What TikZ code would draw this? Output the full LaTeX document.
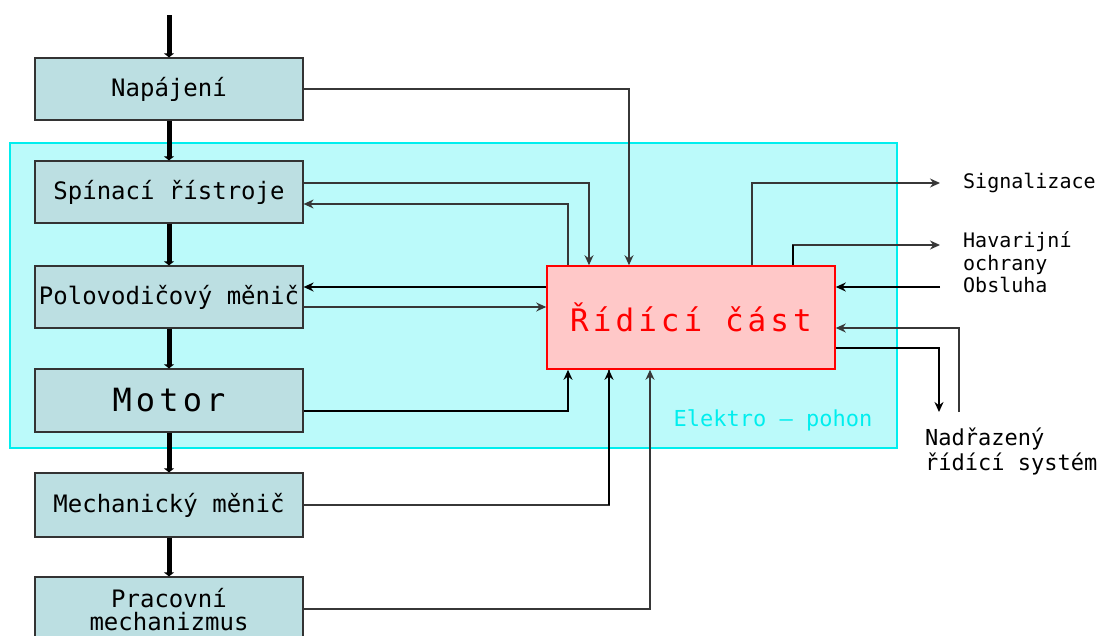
\documentclass[tikz,border=0pt]{standalone}
\usepackage{fontspec}
\usetikzlibrary{arrows.meta,calc}
\newfontfamily\cad{DejaVu Sans Mono}
\newfontfamily\cadwide[LetterSpace=13]{DejaVu Sans Mono}
\definecolor{boxfill}{RGB}{188,223,226}
\definecolor{zone}{RGB}{187,250,250}
\definecolor{zoneline}{RGB}{0,238,238}
\definecolor{redfill}{RGB}{255,200,200}
\definecolor{wire}{RGB}{55,55,55}
\tikzset{
  blockbox/.style={draw=black!80, line width=1.2pt, fill=boxfill, minimum width=268pt,
    minimum height=62pt, inner sep=0pt, font=\cad\fontsize{24}{23}\selectfont, align=center},
  thinw/.style={draw=wire, line width=1.3pt},
  thickw/.style={draw=black, line width=2.6pt},
  tip/.style={-{Stealth[length=10pt,width=9pt]}},
  power/.style={draw=black, line width=5pt, -{Triangle[length=4pt,width=10pt]}},
  lbl/.style={font=\cad\fontsize{20}{23}\selectfont, anchor=west, inner sep=0pt, align=left},
}
\begin{document}
\begin{tikzpicture}[x=1pt,y=-1pt]
\useasboundingbox (0,0) rectangle (1101,635);
\clip (0,0) rectangle (1101,635);
% zone
\fill[zone] (10,143) rectangle (897,448);
\draw[zoneline, line width=1.6pt] (10,143) rectangle (897,448);
\node[font=\cad\fontsize{22}{26}\selectfont, text=zoneline, inner sep=0pt] (ep) at (773,420) {Elektro – pohon};
% blocks
\node[blockbox] (nap) at (169,89) {Napájení};
\node[blockbox] (sp) at (169,192) {Spínací řístroje};
\node[blockbox] (pol) at (169,297) {Polovodičový měnič};
\node[blockbox, minimum height=63pt, font=\cadwide\fontsize{32}{36}\selectfont] (mot) at (169,400.5) {Motor};
\node[blockbox, minimum height=64pt] (mech) at (169,505) {Mechanický měnič};
\node[blockbox, minimum height=66pt] (prac) at (169,610) {Pracovní\\mechanizmus};
\node[draw=red, line width=1.6pt, fill=redfill, minimum width=288pt, minimum height=103pt,
  inner sep=0pt, text=red, font=\cadwide\fontsize{31}{34}\selectfont] (ctl) at (691,317.5) {Řídící část};
% labels right
\node[lbl] (sig) at (963,183) {Signalizace};
\node[lbl, anchor=north west] (hav) at (963,231) {Havarijní\\ochrany};
\node[lbl] (obs) at (963,285) {Obsluha};
\node[lbl, anchor=north west, font=\cad\fontsize{22}{25}\selectfont] (nad) at (925,428) {Nadřazený\\řídící systém};
\coordinate (src) at (169,15);
\coordinate (sigEnd) at (940,183);
\coordinate (havEnd) at (940,245);
\coordinate (obsEnd) at (940,287);
\coordinate (nadIn) at (959,412);
\coordinate (nadOut) at (939,412);
% power flow
\draw[power] (src) -- (nap.north);
\draw[power] (nap.south) -- (sp.north);
\draw[power] (sp.south) -- (pol.north);
\draw[power] (pol.south) -- (mot.north);
\draw[power] (mot.south) -- (mech.north);
\draw[power] (mech.south) -- (prac.north);
% left connectors
\draw[thinw,tip] (nap.east) -| ([xshift=-62pt]ctl.north);
\draw[thinw,tip] ([yshift=9pt]sp.east) -| ([xshift=-102pt]ctl.north);
\draw[thinw,tip] ([xshift=-123pt]ctl.north) |- ([yshift=-12pt]sp.east);
\draw[thickw,tip] ([yshift=30.5pt]ctl.west) -- ([yshift=10pt]pol.east);
\draw[thinw,tip] ([yshift=-10pt]pol.east) -- ([yshift=10.5pt]ctl.west);
\draw[thickw,tip] ([yshift=-10.5pt]mot.east) -| ([xshift=-123pt]ctl.south);
\draw[thinw] (mech.east) -| ([xshift=-82pt]ctl.south);
\draw[thickw,tip] ([xshift=-82pt]ctl.south |- mech.east) -- ([xshift=-82pt]ctl.south);
\draw[thinw,tip] ([yshift=1pt]prac.east) -| ([xshift=-41pt]ctl.south);
% right connectors
\draw[thinw,tip] ([xshift=61pt]ctl.north) |- (sigEnd);
\draw[thinw,tip] ([xshift=102pt]ctl.north) |- (havEnd);
\draw[thickw] ([xshift=102pt]ctl.north) -- ([xshift=102pt]ctl.north |- havEnd);
\draw[thickw,tip] (obsEnd) -- ([yshift=30.5pt]ctl.east);
\draw[thinw,tip] (nadIn) |- ([yshift=-10.5pt]ctl.east);
\draw[thickw,tip] ([yshift=-30.5pt]ctl.east) -| (nadOut);
\end{tikzpicture}
\end{document}
